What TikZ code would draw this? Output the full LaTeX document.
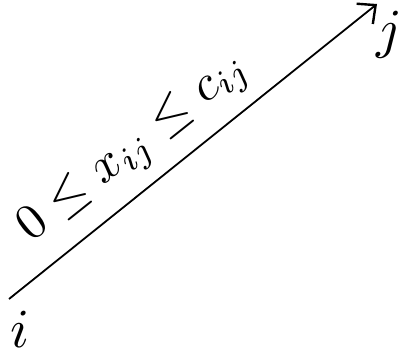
\documentclass[tikz,border=0pt]{standalone}
\usetikzlibrary{arrows.meta}
\tikzset{
  edge/.style={line width=1.8pt, -{Straight Barb[length=14pt,width=26pt,line width=2.4pt]}},
  vlabel/.style={inner sep=0pt, scale=5.5},
  flowlabel/.style={inner sep=0pt, scale=5.0, rotate=38.5}
}
\begin{document}
\begin{tikzpicture}[x=1pt,y=1pt]
\useasboundingbox (0,0) rectangle (406,360);
\coordinate (start) at (9,61);
\coordinate (tip) at (377,356);
\node[vlabel] (i) at (20,31) {$i$};
\node[vlabel] (j) at (389,325) {$j$};
\draw[edge] (start) -- (tip);
\node[flowlabel] (f) at (135,211) {$0\le x_{ij}\le c_{ij}$};
\end{tikzpicture}
\end{document}
